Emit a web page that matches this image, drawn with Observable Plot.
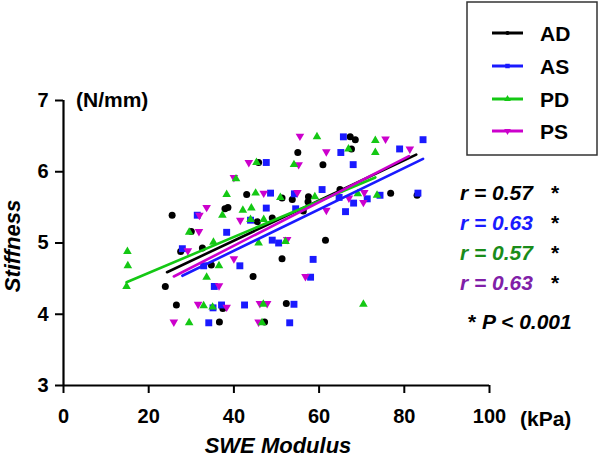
<!DOCTYPE html>
<html><head><meta charset="utf-8">
<script src="https://cdn.jsdelivr.net/npm/d3@7"></script>
<script src="https://cdn.jsdelivr.net/npm/@observablehq/plot@0.6"></script>
<style>
body{margin:0;background:#fff;}
#wrap{position:relative;width:600px;height:458px;font-family:"Liberation Sans",Arial,sans-serif;}
</style></head><body><div id="wrap"></div>
<script>
const groups = ["AD","AS","PD","PS"];
const colors = ["#000000","#1a1aff","#14c814","#cc00cc"];
const rColors = ["#000000","#1a1aff","#1a8c1a","#8020a8"];
const rValues = ["0.57","0.63","0.57","0.63"];
const xTicks = [0,20,40,60,80,100];
const yTicks = [3,4,5,6,7];

// AD (black circles)
const AD_x = [45.8,43.0,51.3,37.9,38.6,25.5,45.5,49.0,27.5,32.6,23.9,26.5,36.6,37.4,47.2,44.5,34.7,30.0,61.5,51.3,52.3,67.3,68.5,55.0,67.6,60.9,53.7,57.5,57.4,64.9,76.8,83.0,56.3];
const AD_y = [6.13,5.68,5.63,5.48,5.50,5.39,5.30,5.35,4.88,4.93,4.39,4.13,3.89,4.08,3.89,4.53,4.69,5.16,5.04,4.78,4.15,6.49,6.45,6.27,6.32,6.10,5.61,5.65,5.58,5.75,5.70,5.67,5.45];
// AS (blue squares)
const AS_x = [47.6,48.6,47.6,31.4,43.9,34.1,35.1,37.1,42.5,35.4,41.4,32.9,27.9,38.3,49.0,50.5,58.6,58.0,54.1,53.1,65.7,84.4,65.1,78.9,68.0,54.2,60.7,64.7,71.3,68.1,66.2,74.3,83.2,54.5];
const AS_y = [6.13,5.70,5.49,5.39,5.32,3.88,4.09,4.13,4.13,4.39,4.68,4.68,4.92,5.15,5.04,5.00,4.77,4.52,4.14,3.88,6.49,6.45,6.27,6.32,6.10,5.69,5.75,5.64,5.62,5.56,5.44,5.67,5.70,5.48];
// PD (green triangles)
const PD_x = [45.3,40.5,38.3,45.1,42.1,44.1,37.3,47.0,43.9,15.0,15.1,14.8,29.5,32.9,35.0,46.9,46.6,33.6,36.5,35.2,29.5,45.8,52.1,70.4,59.5,73.2,66.9,73.2,54.1,50.9,59.0,69.1,73.6];
const PD_y = [6.13,5.90,5.68,5.70,5.46,5.49,5.39,5.33,5.33,4.88,4.68,4.39,3.88,4.12,4.10,4.14,3.88,4.52,4.68,5.01,5.15,5.00,5.02,4.14,6.49,6.44,6.32,6.27,6.10,5.64,5.65,5.69,5.67];
// PS (magenta inverted triangles)
const PS_x = [43.5,40.0,47.0,33.6,31.9,41.5,25.9,31.6,38.3,46.1,47.8,45.8,36.5,40.0,29.2,31.8,52.5,56.8,55.5,75.6,61.7,81.3,55.2,54.9,61.7,67.0,70.6,70.4];
const PS_y = [6.13,5.92,5.70,5.50,5.39,5.32,3.89,4.14,4.10,4.15,4.15,3.89,4.40,4.78,4.89,5.16,5.05,4.53,6.50,6.46,6.28,6.32,6.10,5.71,5.46,5.63,5.71,5.57];

// regression lines: [start x, end x], [start y, end y]
const fitX = [[24.3,82.8],[27.9,84.4],[14.8,73.2],[25.9,81.1]];
const fitY = [[4.59,6.24],[4.54,6.18],[4.45,5.92],[4.53,6.22]];

const xsAll = [AD_x, AS_x, PD_x, PS_x];
const ysAll = [AD_y, AS_y, PD_y, PS_y];

const triDown = {
  draw(ctx, size) {
    const y = -Math.sqrt(size / (Math.sqrt(3) * 3));
    const s = Math.sqrt(3);
    ctx.moveTo(0, -2 * y);
    ctx.lineTo(-s * y, y);
    ctx.lineTo(s * y, y);
    ctx.closePath();
  }
};
const symbols = ["circle","square","triangle",triDown];
const d3Symbols = [d3.symbolCircle, d3.symbolSquare, d3.symbolTriangle, triDown];
const radii = [3.5,3.9,3.2,3.2];

const pts = groups.map((g,i)=> xsAll[i].map((x,j)=>({group:g, x, y: ysAll[i][j]})));
const fits = groups.flatMap((g,i)=> [0,1].map(k=>({group:g, x: fitX[i][k], y: fitY[i][k]})));

const drawOrder = [0,1,3,2];
const dotMarks = drawOrder.map(i => Plot.dot(pts[i], {x:"x", y:"y", symbol: ()=>symbols[i], r: radii[i], fill: colors[i], stroke: "none"}));
const lineMarks = [0,1,2,3].map(i => Plot.line(fits.filter(d=>d.group===groups[i]), {x:"x", y:"y", stroke: colors[i], strokeWidth: 2.6}));

const plot = Plot.plot({
  width: 600, height: 458,
  marginLeft: 63, marginRight: 111, marginTop: 100, marginBottom: 73,
  style: {fontFamily: '"Liberation Sans", Arial, sans-serif', background: "#fff", color: "#000"},
  x: {domain: [0,100], label: null},
  y: {domain: [3,7], label: null},
  symbol: {type: "identity"},
  marks: [
    Plot.axisX({ticks: xTicks, label: null, tickSize: 8, tickPadding: 15, fontSize: 20, fontWeight: "bold", strokeWidth: 2, tickFormat: d=>String(d)}),
    Plot.axisY({ticks: yTicks, label: null, tickSize: 8, tickPadding: 7, fontSize: 20, fontWeight: "bold", strokeWidth: 2, tickFormat: d=>String(d)}),
    Plot.ruleY([3], {x1: 0, x2: 100, strokeWidth: 2.2}),
    Plot.ruleX([0], {y1: 3, y2: 7, strokeWidth: 2.2}),
    ...dotMarks,
    ...lineMarks
  ]
});
document.getElementById("wrap").appendChild(plot);

// annotations
const svg = d3.select(plot);
const font = '"Liberation Sans", Arial, sans-serif';
function txt(x, y, s, opts={}) {
  return svg.append("text").attr("x", x).attr("y", y).text(s)
    .attr("font-family", font).attr("font-size", opts.size||21)
    .attr("font-weight", "bold").attr("font-style", opts.italic ? "italic" : "normal")
    .attr("fill", opts.fill||"#000").attr("text-anchor", opts.anchor||"start");
}
txt(76, 107, "(N/mm)");
txt(520, 426, "(kPa)");
txt(278, 453, "SWE Modulus", {italic:true, size:22, anchor:"middle"});
svg.append("text").attr("transform","translate(20,246) rotate(-90)").text("Stiffness")
  .attr("font-family", font).attr("font-size", 22).attr("font-weight","bold").attr("font-style","italic").attr("text-anchor","middle");

// legend
const lg = svg.append("g").attr("text-anchor","start");
lg.append("rect").attr("x",467).attr("y",2).attr("width",130).attr("height",153)
  .attr("fill","#fff").attr("stroke","#333").attr("stroke-width",1.5);
const rowY = [33,66,99,131];
groups.forEach((g,i)=>{
  lg.append("line").attr("x1",492).attr("x2",523).attr("y1",rowY[i]).attr("y2",rowY[i])
    .attr("stroke",colors[i]).attr("stroke-width",3);
  lg.append("path").attr("transform",`translate(507.5,${rowY[i]})`)
    .attr("d", d3.symbol(d3Symbols[i], i===0?14:20)())
    .attr("fill",colors[i]);
  lg.append("text").attr("x",540).attr("y",rowY[i]+7.5).text(g)
    .attr("font-family",font).attr("font-size",21).attr("font-weight","bold");
});

// r annotations
const ann = svg.append("g").attr("text-anchor","start");
const rY = [200,230,260,290];
rValues.forEach((v,i)=>{
  const t = ann.append("text").attr("x",460).attr("y",rY[i])
    .attr("font-family",font).attr("font-size",21).attr("font-weight","bold");
  t.append("tspan").attr("fill",rColors[i]).attr("font-style","italic").text(`r = ${v}`);
  t.append("tspan").attr("fill","#000").attr("x",551).text("*");
});
const p = ann.append("text").attr("x",468).attr("y",329)
  .attr("font-family",font).attr("font-size",21).attr("font-weight","bold");
p.append("tspan").text("* ");
p.append("tspan").attr("font-style","italic").text("P < 0.001");
</script>
</body></html>
